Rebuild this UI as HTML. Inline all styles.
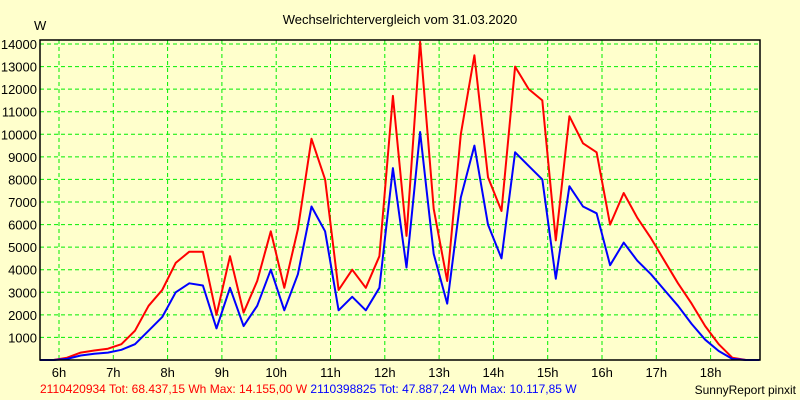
<!DOCTYPE html>
<html><head><meta charset="utf-8"><style>
body{margin:0;background:#ffffcc;}
svg{display:block;font-family:"Liberation Sans",sans-serif;}
</style></head><body>
<svg id="chart" width="800" height="400" viewBox="0 0 800 400">
<rect width="800" height="400" fill="#ffffcc"/>
<text x="400" y="24" font-size="13" text-anchor="middle">Wechselrichtervergleich vom 31.03.2020</text>
<text x="34" y="30" font-size="13">W</text>
<g id="grid"></g>
<g id="series"></g>
<path d="M40,40 H760 V360 H40 Z" fill="none" stroke="#000" stroke-width="1.5"/>
<text x="40" y="393" font-size="12" fill="#ff0000">2110420934 Tot: 68.437,15 Wh Max: 14.155,00 W <tspan fill="#0000ff">2110398825 Tot: 47.887,24 Wh Max: 10.117,85 W</tspan></text>
<text x="796" y="394" font-size="12" text-anchor="end">SunnyReport pinxit</text>
</svg>
<script>
const hourTicks=[6,7,8,9,10,11,12,13,14,15,16,17,18];
const yTicks=[1000,2000,3000,4000,5000,6000,7000,8000,9000,10000,11000,12000,13000,14000];
const startHour=5.65, stepHour=0.25;
const red=[0,0,100,330,420,500,700,1300,2400,3100,4300,4800,4800,2000,4600,2100,3500,5700,3200,5800,9800,8000,3100,4000,3200,4600,11700,5500,14100,6700,3500,10000,13500,8100,6600,13000,12000,11500,5300,10800,9600,9200,6000,7400,6300,5400,4400,3400,2500,1500,700,100,0,0];
const blue=[0,0,50,200,280,330,450,700,1300,1900,3000,3400,3300,1400,3200,1500,2400,4000,2200,3800,6800,5700,2200,2800,2200,3200,8500,4100,10100,4700,2500,7200,9500,6000,4500,9200,8600,8000,3600,7700,6800,6500,4200,5200,4400,3800,3100,2400,1600,900,400,50,0,0];
const NS='http://www.w3.org/2000/svg';
const xs=h=>59+(h-6)*54.3;
const ys=v=>360-v*316/14000;
const grid=document.getElementById('grid'), ser=document.getElementById('series');
function mk(tag,attrs,parent,txt){const e=document.createElementNS(NS,tag);for(const k in attrs)e.setAttribute(k,attrs[k]);if(txt!==undefined)e.textContent=txt;parent.appendChild(e);return e;}
hourTicks.forEach(h=>{
  const l=mk('line',{x1:xs(h),x2:xs(h),y1:40,y2:360,stroke:'#00ee00','stroke-dasharray':'4,3'},grid);
  
  
  const t=mk('text',{x:xs(h),y:377,'font-size':13,'text-anchor':'middle'},grid,h+'h');
  
  
});
yTicks.forEach(v=>{
  const l=mk('line',{x1:40,x2:760,y1:ys(v),y2:ys(v),stroke:'#00ee00','stroke-dasharray':'4,3'},grid);
  
  
  const t=mk('text',{x:37,y:ys(v)+5,'font-size':13,'text-anchor':'end'},grid,String(v));
  
  
});
function line(vals,color,name){
  const pts=vals.map((v,i)=>xs(startHour+i*stepHour).toFixed(1)+','+ys(v).toFixed(1)).join(' ');
  const p=mk('polyline',{points:pts,fill:'none',stroke:color,'stroke-width':2,'stroke-linejoin':'round'},ser);
  
  
}
line(red,'#ff0000','series-2110420934');
line(blue,'#0000ff','series-2110398825');
</script>
</body></html>
